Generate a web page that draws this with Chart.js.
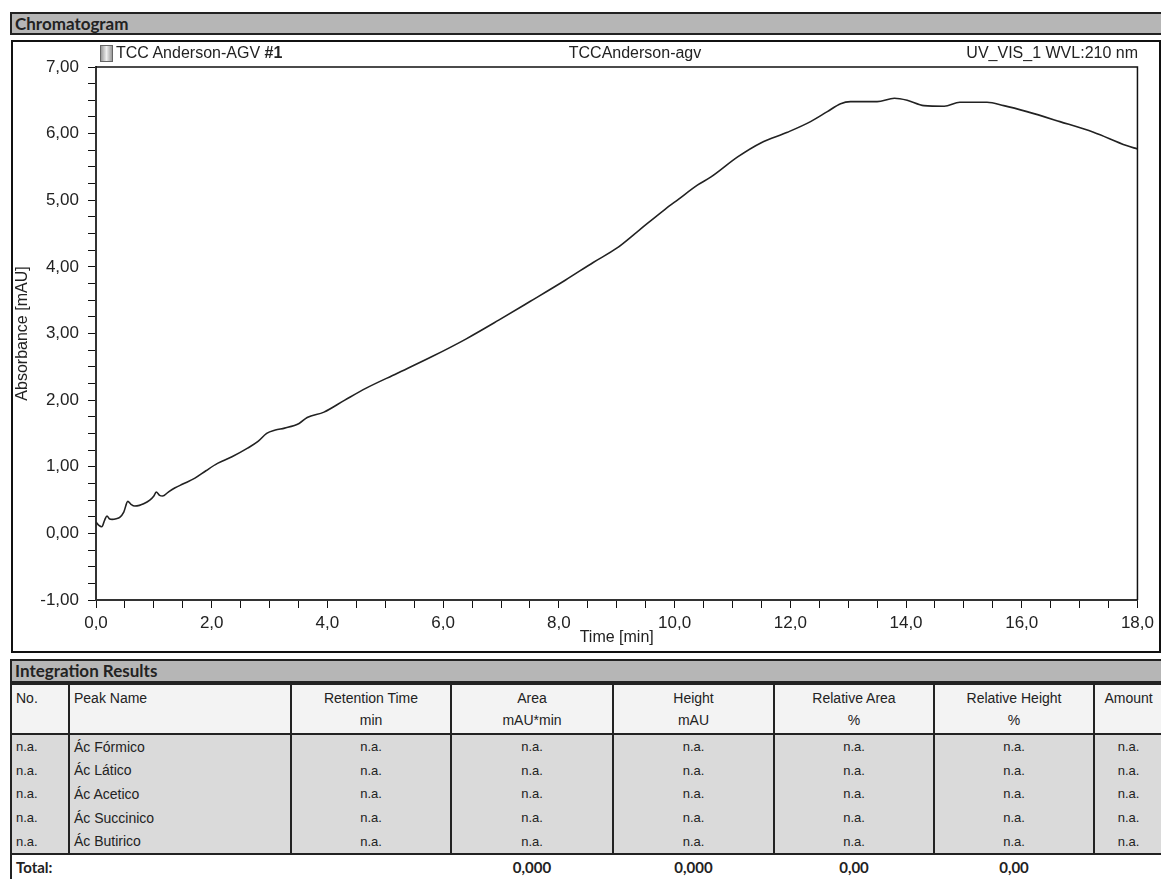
<!DOCTYPE html>
<html>
<head>
<meta charset="utf-8">
<script src="https://cdn.jsdelivr.net/npm/chart.js@4.4.0/dist/chart.umd.min.js"></script>
<style>
body { margin:0; width:1161px; height:879px; background:#fff; position:relative; overflow:hidden;
       font-family:"Liberation Sans", Arial, sans-serif; color:#222; }
.bar { position:absolute; left:10px; width:1149px; height:19px; background:#b6b6b6;
       border-top:2px solid #222; border-bottom:2px solid #222; border-left:2px solid #222;
       font-family:Lato, sans-serif; font-weight:700; font-size:17px; line-height:19px; padding-left:3px; color:#222; }
#box { position:absolute; left:11px; top:40px; width:1150px; height:613px; border:2px solid #111; box-sizing:border-box; }
#wrap { position:absolute; left:13px; top:42px; width:1146px; height:609px; }
.lbl { position:absolute; font-size:16px; line-height:18px; white-space:nowrap; color:#222; }
#vial { position:absolute; left:100px; top:45px; width:11px; height:15px; border:1px solid #666;
        background:linear-gradient(90deg,#999,#eee 50%,#999); }
table { position:absolute; left:10px; top:683px; border-collapse:collapse; table-layout:fixed; width:1151px; font-size:14px; }
td { padding:0 4px; white-space:nowrap; overflow:hidden; }
tr.head td { background:#f3f3f3; height:46px; vertical-align:top; text-align:center; line-height:22px; padding-top:2px;
             border-left:2px solid #222; border-top:2px solid #222; border-bottom:2px solid #222; }
tr.row td { background:#dadada; height:23.6px; text-align:center; font-size:13px; border-left:2px solid #222; }
tr.row td.l, tr.head td.l { text-align:left; font-size:14px; }
tr.row td.n { font-size:13px; }
tr.tot td { height:24px; font-family:Lato, sans-serif; font-weight:700; font-size:15px; text-align:center; border-top:2px solid #222; }
tr.tot td:first-child { border-left:2px solid #222; text-align:left; }
</style>
</head>
<body>
<div class="bar" style="top:12px">Chromatogram</div>
<div id="box"></div>
<div id="wrap"><canvas id="chromChart"></canvas></div>
<div id="vial"></div>
<div class="lbl" style="left:116px;top:44px">TCC Anderson-AGV <b>#1</b></div>
<div class="lbl" style="left:635px;top:44px;transform:translateX(-50%)">TCCAnderson-agv</div>
<div class="lbl" style="right:23px;top:44px">UV_VIS_1 WVL:210 nm</div>
<div class="bar" style="top:659px;height:20px;line-height:20px">Integration Results</div>
<table id="results">
  <colgroup>
    <col style="width:58px"><col style="width:222px"><col style="width:160px"><col style="width:162px">
    <col style="width:161px"><col style="width:160px"><col style="width:160px"><col style="width:68px">
  </colgroup>
  <tbody id="tbody"></tbody>
</table>
<script>
// chromatogram trace
const times = [0.00, 0.05, 0.10, 0.15, 0.19, 0.23, 0.28, 0.35, 0.41, 0.48, 0.55, 0.60, 0.67, 0.75, 0.81, 0.93,
  1.00, 1.04, 1.10, 1.15, 1.25, 1.36, 1.50, 1.71, 1.90, 2.10, 2.35, 2.62, 2.80, 2.95, 3.10, 3.26, 3.51, 3.65,
  3.94, 4.30, 4.67, 5.20, 5.80, 6.40, 6.96, 7.50, 8.11, 8.60, 9.00, 9.40, 9.83, 10.06, 10.40, 10.63, 11.09, 11.49,
  11.95, 12.35, 12.64, 12.87, 13.04, 13.50, 13.80, 14.02, 14.31, 14.66, 14.93, 15.40, 15.69, 16.09, 16.66,
  17.24, 17.81, 18.00];
const absorbance = [0.17, 0.12, 0.10, 0.20, 0.26, 0.22, 0.21, 0.22, 0.24, 0.32, 0.48, 0.44, 0.41, 0.42, 0.44, 0.50,
  0.56, 0.62, 0.57, 0.56, 0.62, 0.68, 0.74, 0.83, 0.94, 1.05, 1.15, 1.28, 1.38, 1.50, 1.55, 1.58, 1.65, 1.74,
  1.82, 2.00, 2.18, 2.40, 2.65, 2.92, 3.20, 3.48, 3.80, 4.07, 4.28, 4.56, 4.86, 5.01, 5.23, 5.35, 5.65, 5.86,
  6.02, 6.18, 6.33, 6.45, 6.48, 6.48, 6.53, 6.50, 6.42, 6.41, 6.47, 6.47, 6.42, 6.33, 6.18,
  6.02, 5.82, 5.77];

const xMajor = [0, 2, 4, 6, 8, 10, 12, 14, 16, 18];
const yMajor = [-1, 0, 1, 2, 3, 4, 5, 6, 7];

// integration table
const tableHead = [['No.', ''], ['Peak Name', ''], ['Retention Time', 'min'], ['Area', 'mAU*min'],
  ['Height', 'mAU'], ['Relative Area', '%'], ['Relative Height', '%'], ['Amount', '']];
const peakNames = ['Ác Fórmico', 'Ác Lático', 'Ác Acetico', 'Ác Succinico', 'Ác Butirico'];
const totals = ['Total:', '', '', '0,000', '0,000', '0,00', '0,00', ''];

let html = '<tr class="head">';
tableHead.forEach((h, i) => {
  html += '<td' + (i < 2 ? ' class="l"' : '') + '>' + h[0] + '<br>' + h[1] + '</td>';
});
html += '</tr>';
peakNames.forEach(name => {
  html += '<tr class="row"><td class="l n">n.a.</td><td class="l">' + name + '</td>';
  for (let i = 2; i < 8; i++) html += '<td>n.a.</td>';
  html += '</tr>';
});
html += '<tr class="tot">' + totals.map(t => '<td>' + t + '</td>').join('') + '</tr>';
document.getElementById('tbody').innerHTML = html;

// top and right edge of the plot
const frame = {
  id: 'frame',
  afterDatasetsDraw(chart) {
    const {ctx, chartArea: a} = chart;
    ctx.save();
    ctx.strokeStyle = '#111';
    ctx.lineWidth = 1.5;
    ctx.beginPath();
    ctx.moveTo(a.left, a.top);
    ctx.lineTo(a.right, a.top);
    ctx.lineTo(a.right, a.bottom);
    ctx.stroke();
    ctx.restore();
  }
};

const tickFont = {family: '"Liberation Sans", Arial, sans-serif', size: 17};

let chrom = new Chart(document.getElementById('chromChart').getContext('2d'), {
  type: 'line',
  data: {
    datasets: [{
      data: times.map((t, i) => ({x: t, y: absorbance[i]})),
      borderColor: '#222',
      borderWidth: 1.6,
      pointRadius: 0,
      cubicInterpolationMode: 'monotone',
      fill: false
    }]
  },
  options: {
    responsive: true,
    maintainAspectRatio: false,
    animation: false,
    layout: { padding: { top: 25, right: 18, left: 0, bottom: 0 } },
    plugins: { legend: { display: false }, tooltip: { enabled: false } },
    scales: {
      x: {
        type: 'linear', min: 0, max: 18,
        afterFit(s) { s.height = 51; },
        ticks: {
          stepSize: 0.5, autoSkip: false, maxRotation: 0, padding: 5,
          color: '#222', font: tickFont,
          callback: v => xMajor.includes(v) ? v.toFixed(1).replace('.', ',') : ''
        },
        grid: { drawOnChartArea: false, drawTicks: true, tickLength: 8, color: '#111' },
        border: { display: true, color: '#333', width: 2 },
        title: { display: true, text: 'Time [min]', color: '#222',
                 font: {family: '"Liberation Sans", Arial, sans-serif', size: 16}, padding: {top: 0, bottom: 4} }
      },
      y: {
        min: -1, max: 7,
        afterFit(s) { s.width = 83; },
        ticks: {
          stepSize: 0.25, autoSkip: false, padding: 9,
          color: '#222', font: tickFont,
          callback: v => yMajor.includes(v) ? v.toFixed(2).replace('.', ',') : ''
        },
        grid: { drawOnChartArea: false, drawTicks: true, tickLength: 8, color: '#111' },
        border: { display: true, color: '#333', width: 2 },
        title: { display: true, text: 'Absorbance [mAU]', color: '#222',
                 font: {family: '"Liberation Sans", Arial, sans-serif', size: 16}, padding: 0 }
      }
    }
  },
  plugins: [frame]
});

chrom.render();
</script>
</body>
</html>
